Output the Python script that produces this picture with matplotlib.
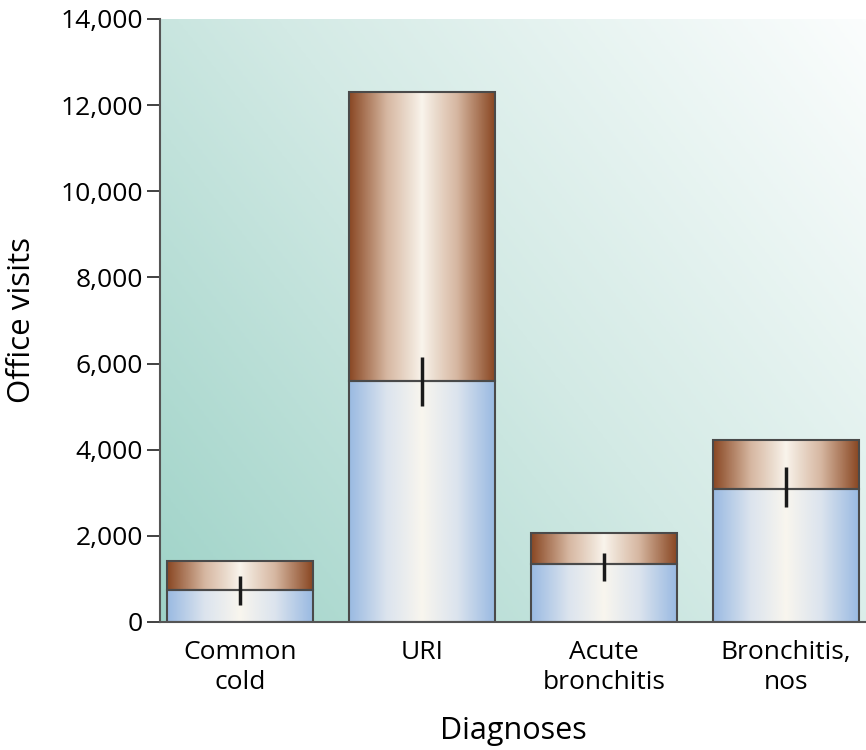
import numpy as np
import matplotlib.pyplot as plt
from matplotlib.colors import LinearSegmentedColormap
from matplotlib.ticker import FuncFormatter

# datos
categorias = ['Common\ncold', 'URI', 'Acute\nbronchitis', 'Bronchitis,\nnos']
base = [750, 5600, 1350, 3080]        # parte azul
total = [1420, 12300, 2060, 4220]     # altura total de la barra
err_bajo = [400, 5020, 960, 2680]
err_alto = [1070, 6150, 1600, 3600]

plt.rcParams['font.family'] = ['Open Sans', 'DejaVu Sans']

fig = plt.figure(figsize=(8.66, 7.5), dpi=100)
ax = fig.add_axes([0.1848, 0.1707, 0.8152, 0.804])

x = np.arange(len(categorias))
ancho = 0.8
ax.set_xlim(-0.44, 3.44)
ax.set_ylim(0, 14000)

# fondo con degradado diagonal
gx, gy = np.meshgrid(np.linspace(0, 1, 300), np.linspace(0, 1, 300))
t = np.clip((gx * 0.9 + gy * 0.6) / 1.5, 0, 1)
fondo = LinearSegmentedColormap.from_list('fondo', ['#9fd3c8', '#d3eae5', '#fbfdfd'])
ax.imshow(fondo(t), extent=(-0.44, 3.44, 0, 14000), origin='lower',
          aspect='auto', zorder=0, interpolation='bilinear')

# degradado horizontal para las barras (efecto cilindro)
h = np.abs(np.linspace(-1, 1, 200))[None, :]
azul = LinearSegmentedColormap.from_list('azul', ['#f9f6ee', '#dce4ee', '#9abae2'])
cafe = LinearSegmentedColormap.from_list('cafe', ['#f9f4ec', '#d6b7a1', '#8a4824'])

for i in range(len(categorias)):
    l, r = x[i] - ancho / 2, x[i] + ancho / 2
    ax.imshow(azul(h ** 0.95), extent=(l, r, 0, base[i]), aspect='auto',
              zorder=1, interpolation='bilinear')
    ax.imshow(cafe(h ** 0.95), extent=(l, r, base[i], total[i]), aspect='auto',
              zorder=1, interpolation='bilinear')

ax.bar(x, base, width=ancho, facecolor='none', edgecolor='#4a4a4a', lw=1.5, zorder=2)
ax.bar(x, np.array(total) - np.array(base), bottom=base, width=ancho,
       facecolor='none', edgecolor='#4a4a4a', lw=1.5, zorder=2)
ax.vlines(x, err_bajo, err_alto, color='#1a1a1a', lw=2.5, zorder=3)

ax.set_xlim(-0.44, 3.44)
ax.set_ylim(0, 14000)
ax.set_xticks(x)
ax.set_xticklabels(categorias, fontsize=19, linespacing=1.25)
ax.tick_params(axis='x', length=0, pad=13)
ax.set_yticks(range(0, 14001, 2000))
ax.yaxis.set_major_formatter(FuncFormatter(lambda v, p: '{:,.0f}'.format(v)))
ax.tick_params(axis='y', labelsize=19, length=9.5, width=1.3, color='#333333', pad=3)

for s in ['top', 'right']:
    ax.spines[s].set_visible(False)
for s in ['left', 'bottom']:
    ax.spines[s].set_color('#555555')
    ax.spines[s].set_linewidth(1.5)

ax.set_ylabel('Office visits', fontsize=22.5, labelpad=17)
ax.set_xlabel('Diagnoses', fontsize=22, labelpad=15)

fig.savefig('out.png', dpi=100)
